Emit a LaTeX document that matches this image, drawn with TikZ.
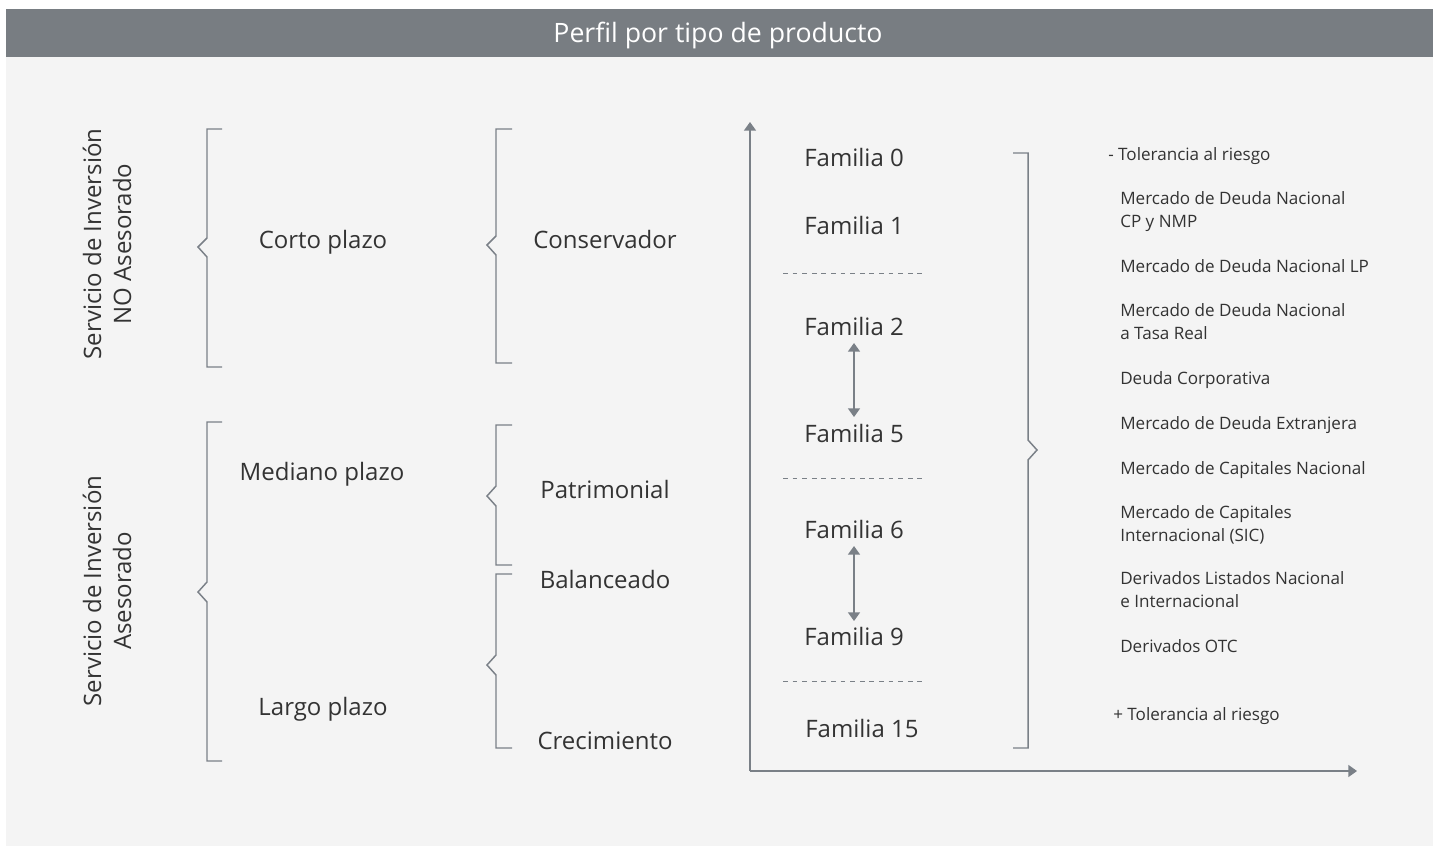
\documentclass[tikz,border=0pt]{standalone}
\usepackage{fontspec}
\setmainfont{Open Sans}
\usetikzlibrary{arrows.meta}
\definecolor{hdr}{HTML}{787D82}
\definecolor{bg}{HTML}{F4F4F4}
\definecolor{ln}{HTML}{7A8087}
\definecolor{txt}{HTML}{333333}
\begin{document}
\begin{tikzpicture}[x=0.75pt,y=-0.75pt,
  big/.style={font=\fontsize{18}{22.5}\selectfont, text=txt, inner sep=0pt, align=center},
  bigone/.style={big, text height=12.85pt, text depth=0pt},
  small/.style={font=\fontsize{12.8}{17.25}\selectfont, text=txt, inner sep=0pt, align=left, anchor=west},
  smallone/.style={small, text height=9.14pt, text depth=0pt},
  brk/.style={draw=ln, line width=1.1pt},
  axisline/.style={draw=ln, line width=1.1pt, -{Triangle[width=9pt,length=6.5pt]}},
  dbl/.style={draw=ln, line width=1.1pt, {Triangle[width=9pt,length=6.5pt]}-{Triangle[width=9pt,length=6.5pt]}},
  sep/.style={draw=ln, line width=0.75pt, dash pattern=on 3.6pt off 3.6pt}]
\useasboundingbox (0,0) rectangle (1433,846);
\fill[white] (0,0) rectangle (1433,846);
\fill[bg] (6,57) rectangle (1433,846);
\fill[hdr] (6,9) rectangle (1433,57);
\node[inner sep=0pt, font=\fontsize{20}{24}\selectfont, text=white, text height=14.3pt, text depth=0pt] (title) at (718,33) {Perfil por tipo de producto};

% rotated labels
\node[big, rotate=90] (noas) at (107,244) {Servicio de Inversión\\NO Asesorado};
\node[big, rotate=90] (as) at (107,591) {Servicio de Inversión\\Asesorado};

% left brackets
\draw[brk] (222,129) -- (207,129) -- (207,238) -- (198,247) -- (207,257) -- (207,367) -- (222,367);
\draw[brk] (222,422) -- (207,422) -- (207,582) -- (198,592) -- (207,602) -- (207,761) -- (222,761);
\node[bigone] (corto) at (323,240) {Corto plazo};
\node[bigone] (mediano) at (322,472) {Mediano plazo};
\node[bigone] (largo) at (323,707) {Largo plazo};

% middle brackets
\draw[brk] (512,129) -- (496,129) -- (496,236) -- (487,245) -- (496,255) -- (496,363) -- (512,363);
\draw[brk] (512,425) -- (496,425) -- (496,486) -- (487,496) -- (496,506) -- (496,565) -- (512,565);
\draw[brk] (512,574) -- (496,574) -- (496,655) -- (487,665) -- (496,675) -- (496,748) -- (512,748);
\node[bigone] (cons) at (605,240) {Conservador};
\node[bigone] (patr) at (605,490) {Patrimonial};
\node[bigone] (bal) at (605,580) {Balanceado};
\node[bigone] (crec) at (605,741) {Crecimiento};

% axes
\coordinate (o) at (750,771);
\coordinate (ytip) at (750,122);
\coordinate (xtip) at (1357,771);
\draw[axisline] (o) -- (ytip);
\draw[axisline] (o) -- (xtip);

% familias
\node[bigone, anchor=west] (f0) at (804,158) {Familia 0};
\node[bigone, anchor=west] (f1) at (804,226) {Familia 1};
\node[bigone, anchor=west] (f2) at (804,327) {Familia 2};
\node[bigone, anchor=west] (f5) at (804,434) {Familia 5};
\node[bigone, anchor=west] (f6) at (804,530) {Familia 6};
\node[bigone, anchor=west] (f9) at (804,637) {Familia 9};
\node[bigone, anchor=west] (f15) at (805,729) {Familia 15};
\coordinate (d1a) at (783,273); \coordinate (d1b) at (927,273);
\coordinate (d2a) at (783,478); \coordinate (d2b) at (927,478);
\coordinate (d3a) at (783,681); \coordinate (d3b) at (927,681);
\draw[sep] (d1a) -- (d1b);
\draw[sep] (d2a) -- (d2b);
\draw[sep] (d3a) -- (d3b);
\coordinate (a1t) at (854,343); \coordinate (a1b) at (854,417);
\coordinate (a2t) at (854,546); \coordinate (a2b) at (854,621);
\draw[dbl] (a1t) -- (a1b);
\draw[dbl] (a2t) -- (a2b);

% right bracket
\draw[brk] (1013,153) -- (1028,153) -- (1028,440) -- (1037,450) -- (1028,460) -- (1028,748) -- (1013,748);

% right texts
\node[smallone] (r0) at (1108,154) {- Tolerancia al riesgo};
\node[small] (r1) at (1120,212) {Mercado de Deuda Nacional\\CP y NMP};
\node[smallone] (r2) at (1120,266) {Mercado de Deuda Nacional LP};
\node[small] (r3) at (1120,322) {Mercado de Deuda Nacional\\a Tasa Real};
\node[smallone] (r4) at (1120,378) {Deuda Corporativa};
\node[smallone] (r5) at (1120,423) {Mercado de Deuda Extranjera};
\node[smallone] (r6) at (1120,468) {Mercado de Capitales Nacional};
\node[small] (r7) at (1120,525) {Mercado de Capitales\\Internacional (SIC)};
\node[small] (r8) at (1120,590) {Derivados Listados Nacional\\e Internacional};
\node[smallone] (r9) at (1120,646) {Derivados OTC};
\node[smallone] (r10) at (1113,714) {+ Tolerancia al riesgo};
\end{tikzpicture}
\end{document}
